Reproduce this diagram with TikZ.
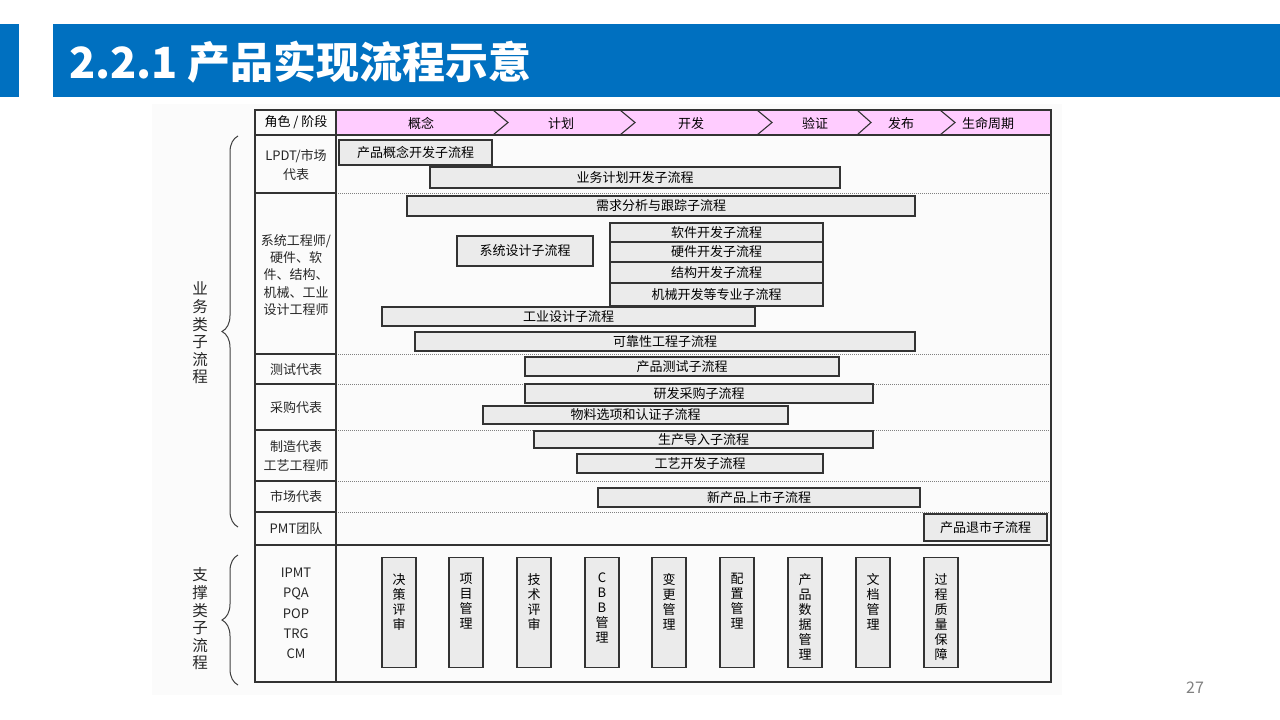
\documentclass[tikz,border=0pt]{standalone}
\usepackage{fontspec}
\setmainfont{Noto Sans CJK SC}
\usetikzlibrary{decorations.pathreplacing}
\definecolor{titleblue}{HTML}{0070C0}
\definecolor{hdrpink}{HTML}{FFCCFF}
\definecolor{barfill}{HTML}{EBEBEB}
\definecolor{lineclr}{HTML}{333333}
\definecolor{dotclr}{HTML}{808080}
\definecolor{pagegray}{HTML}{808080}
\definecolor{backdrop}{HTML}{FBFBFB}
\tikzset{
  barbox/.style={draw=lineclr, fill=barfill, line width=1.2pt, inner sep=0pt, outer sep=0pt, font=\fontsize{13}{15}\selectfont},
  supbox/.style={draw=lineclr, fill=barfill, line width=1.2pt, inner sep=0pt, outer sep=0pt, minimum width=34pt, minimum height=110pt},
  suptext/.style={inner sep=0pt, align=center, font=\fontsize{13}{15}\selectfont},
  rolelabel/.style={inner sep=0pt, align=center, font=\fontsize{13}{18}\selectfont, text=black!85},
  stagelabel/.style={inner sep=0pt, font=\fontsize{13}{15}\selectfont},
  frameline/.style={draw=lineclr, line width=1.4pt},
  dotline/.style={draw=dotclr, line width=0.8pt, dash pattern=on 1pt off 1pt},
  chev/.style={draw=lineclr, line width=1.1pt},
  grouplabel/.style={inner sep=0pt, align=center, font=\fontsize{15.5}{17.6}\selectfont, text=black!85},
  bracestyle/.style={draw=black!75, line width=1pt, decorate, decoration={brace, amplitude=16pt}}
}
\newcommand{\pbar}[6]{\node[barbox, minimum width={#4-#2}, minimum height={#5-#3}] (#1) at ({(#2+#4)/2},{(#3+#5)/2}) {#6};}
\newcommand{\supitem}[3]{\node[supbox] (#1) at ({#2+17},612.5) {};
  \node[suptext, anchor=north] (#1t) at ({#2+17},573) {#3};}
\begin{document}
\begin{tikzpicture}[x=1pt, y=-1pt]
\useasboundingbox (0,0) rectangle (1280,720);
% faint backdrop
\fill[backdrop] (152,104) rectangle (1062,695);
% title bar
\fill[titleblue] (0,24) rectangle (19,97);
\fill[titleblue] (53,24) rectangle (1280,97);
\node[anchor=west, inner sep=0pt, text=white, font=\fontsize{43}{46}\bfseries\selectfont] (title) at (69,62) {2.2.1 产品实现流程示意};

% header
\fill[hdrpink] (336,110) rectangle (1051,135);
\draw[chev] (493,110) -- (508,122.5) -- (493,135);
\draw[chev] (620,110) -- (635,122.5) -- (620,135);
\draw[chev] (757,110) -- (772,122.5) -- (757,135);
\draw[chev] (857,110) -- (871,122.5) -- (857,135);
\draw[chev] (940,110) -- (955,122.5) -- (940,135);
\node[stagelabel] (s0) at (296,122.5) {角色 / 阶段};
\node[stagelabel] (s1) at (421,123.5) {概念};
\node[stagelabel] (s2) at (561,123.5) {计划};
\node[stagelabel] (s3) at (691,123.5) {开发};
\node[stagelabel] (s4) at (815,123.5) {验证};
\node[stagelabel] (s5) at (901,123.5) {发布};
\node[stagelabel] (s6) at (988,123.5) {生命周期};

% dotted row separators
\foreach \yy in {193,354,384,430,481,512} {
  \draw[dotline] (336,\yy) -- (1051,\yy);
  \draw[frameline] (255,\yy) -- (336,\yy);
}
% frame
\draw[frameline] (255,110) rectangle (1051,682);
\draw[frameline] (336,110) -- (336,682);
\draw[frameline] (255,135) -- (1051,135);
\draw[frameline] (255,545) -- (1051,545);

% role labels
\node[rolelabel, font=\fontsize{13}{19}\selectfont] (r1) at (296,165) {LPDT/市场\\代表};
\node[rolelabel, font=\fontsize{13}{17.3}\selectfont] (r2) at (296,275) {系统工程师/\\硬件、软\\件、结构、\\机械、工业\\设计工程师};
\node[rolelabel] (r3) at (296,369.5) {测试代表};
\node[rolelabel] (r4) at (296,407.5) {采购代表};
\node[rolelabel, font=\fontsize{13}{19}\selectfont] (r5) at (296,456.5) {制造代表\\工艺工程师};
\node[rolelabel] (r6) at (296,497) {市场代表};
\node[rolelabel] (r7) at (296,528.5) {PMT团队};
\node[rolelabel, font=\fontsize{13}{20.2}\selectfont] (r8) at (296,613.5) {IPMT\\PQA\\POP\\TRG\\CM};

% process bars
\pbar{b1}{339}{140}{492}{165}{产品概念开发子流程}
\pbar{b2}{430}{167}{840}{188}{业务计划开发子流程}
\pbar{b3}{407}{196}{915}{216}{需求分析与跟踪子流程}
\pbar{b4}{457}{236}{593}{266}{系统设计子流程}
\pbar{b5}{610}{223}{823}{242}{软件开发子流程}
\pbar{b6}{610}{242}{823}{262}{硬件开发子流程}
\pbar{b7}{610}{262}{823}{283}{结构开发子流程}
\pbar{b8}{610}{283}{823}{306}{机械开发等专业子流程}
\pbar{b9}{382}{307}{755}{326}{工业设计子流程}
\pbar{b10}{415}{332}{915}{351}{可靠性工程子流程}
\pbar{b11}{525}{357}{839}{376}{产品测试子流程}
\pbar{b12}{525}{384}{873}{403}{研发采购子流程}
\pbar{b13}{483}{406}{788}{424}{物料选项和认证子流程}
\pbar{b14}{534}{431}{873}{448}{生产导入子流程}
\pbar{b15}{577}{454}{823}{473}{工艺开发子流程}
\pbar{b16}{598}{488}{920}{507}{新产品上市子流程}
\pbar{b17}{924}{514}{1047}{541}{产品退市子流程}

% support boxes
\supitem{p1}{382}{决\\策\\评\\审}
\supitem{p2}{449}{项\\目\\管\\理}
\supitem{p3}{517}{技\\术\\评\\审}
\supitem{p4}{585}{C\\B\\B\\管\\理}
\supitem{p5}{652}{变\\更\\管\\理}
\supitem{p6}{720}{配\\置\\管\\理}
\supitem{p7}{788}{产\\品\\数\\据\\管\\理}
\supitem{p8}{856}{文\\档\\管\\理}
\supitem{p9}{924}{过\\程\\质\\量\\保\\障}

% group braces and labels
\coordinate (g1b) at (238,527);
\coordinate (g1t) at (238,136);
\draw[bracestyle] (g1b) -- (g1t);
\node[grouplabel] (g1) at (200,333) {业\\务\\类\\子\\流\\程};
\coordinate (g2b) at (238,685);
\coordinate (g2t) at (238,555);
\draw[bracestyle] (g2b) -- (g2t);
\node[grouplabel] (g2) at (200,619) {支\\撑\\类\\子\\流\\程};

% page number
\node[inner sep=0pt, text=pagegray, font=\fontsize{16}{18}\selectfont] (pg) at (1195,688) {27};
\end{tikzpicture}
\end{document}
